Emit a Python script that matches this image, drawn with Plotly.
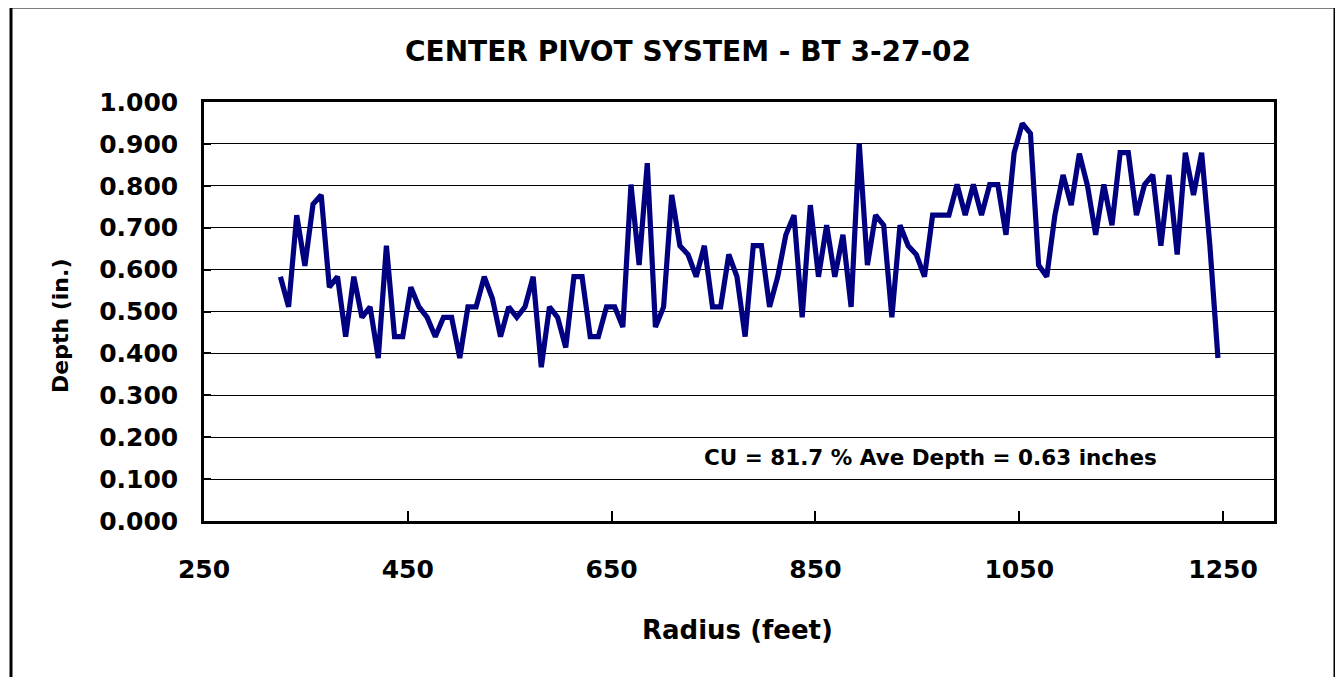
import plotly.graph_objects as go

radius_ft = [325, 333, 341, 349, 357, 365, 373, 381, 389, 397, 405, 413, 421, 429, 437, 445,
             453, 461, 469, 477, 485, 493, 501, 509, 517, 525, 533, 541, 549, 557, 565, 573,
             581, 589, 597, 605, 613, 621, 629, 637, 645, 653, 661, 669, 677, 685, 693, 701,
             709, 717, 725, 733, 741, 749, 757, 765, 773, 781, 789, 797, 805, 813, 821, 829,
             837, 845, 853, 861, 869, 877, 885, 893, 901, 909, 917, 925, 933, 941, 949, 957,
             965, 973, 981, 989, 997, 1005, 1013, 1021, 1029, 1037, 1045, 1053, 1061, 1069,
             1077, 1085, 1093, 1101, 1109, 1117, 1125, 1133, 1141, 1149, 1157, 1165, 1173,
             1181, 1189, 1197, 1205, 1213, 1221, 1229, 1237, 1245]

depth_in = [0.583, 0.511, 0.730, 0.609, 0.756, 0.778, 0.558, 0.583, 0.440, 0.583, 0.486, 0.511,
            0.389, 0.657, 0.440, 0.440, 0.558, 0.511, 0.486, 0.440, 0.486, 0.486, 0.389, 0.511,
            0.511, 0.583, 0.531, 0.440, 0.511, 0.486, 0.511, 0.583, 0.367, 0.511, 0.486, 0.414,
            0.583, 0.583, 0.440, 0.440, 0.511, 0.511, 0.463, 0.803, 0.611, 0.854, 0.463, 0.511,
            0.778, 0.657, 0.636, 0.583, 0.657, 0.511, 0.511, 0.636, 0.583, 0.440, 0.657, 0.657,
            0.511, 0.583, 0.683, 0.730, 0.486, 0.754, 0.583, 0.706, 0.583, 0.683, 0.511, 0.901,
            0.611, 0.730, 0.706, 0.486, 0.706, 0.657, 0.636, 0.583, 0.730, 0.730, 0.730, 0.803,
            0.730, 0.803, 0.730, 0.803, 0.803, 0.683, 0.879, 0.949, 0.925, 0.611, 0.583, 0.730,
            0.826, 0.754, 0.877, 0.800, 0.683, 0.803, 0.706, 0.879, 0.879, 0.730, 0.803, 0.826,
            0.657, 0.826, 0.636, 0.879, 0.778, 0.879, 0.660, 0.389]

x_ticks = [250, 450, 650, 850, 1050, 1250]
y_ticks = [0.0, 0.1, 0.2, 0.3, 0.4, 0.5, 0.6, 0.7, 0.8, 0.9, 1.0]

title_text = "CENTER PIVOT SYSTEM - BT 3-27-02"
x_title = "Radius (feet)"
y_title = "Depth (in.)"
note_text = "CU = 81.7 % Ave Depth = 0.63 inches"

FONT = "DejaVu Sans"

fig = go.Figure()
fig.add_trace(go.Scatter(
    x=radius_ft, y=depth_in, mode="lines",
    line=dict(color="#000080", width=5.2),
    showlegend=False, hoverinfo="x+y",
))

# the page body adds an 8px offset; positions below are screen pixels
OFF = 8
W, H = 1343, 677
L, R, T, B = 204 - OFF, 1274 - OFF, 102 - OFF, 521 - OFF


def px(xp):
    return (xp - OFF - L) / (R - L)


def py(yp):
    return (B - (yp - OFF)) / (B - T)


fig.update_layout(
    width=W, height=H,
    margin=dict(l=L, r=W - R, t=T, b=H - B, autoexpand=False),
    paper_bgcolor="white", plot_bgcolor="white",
    showlegend=False,
    font=dict(family=FONT, color="black"),
)

fig.update_xaxes(
    range=[250, 1300], tickmode="array", tickvals=x_ticks,
    ticktext=[str(v) for v in x_ticks],
    showgrid=False, zeroline=False,
    showline=True, linecolor="black", linewidth=2.5, mirror=True,
    ticks="inside", ticklen=10, tickwidth=2, tickcolor="black",
    tickfont=dict(family=FONT, size=25, color="black", weight="bold"),
    ticklabelstandoff=24,
)
fig.update_yaxes(
    range=[0, 1.0], tickmode="array", tickvals=y_ticks,
    ticktext=[f"{v:.3f}" for v in y_ticks],
    showgrid=True, gridcolor="black", gridwidth=1, zeroline=False,
    showline=True, linecolor="black", linewidth=2.5, mirror=True,
    ticks="inside", ticklen=7, tickwidth=2, tickcolor="black",
    tickfont=dict(family=FONT, size=25, color="black", weight="bold"),
    ticklabelstandoff=18,
)

fig.add_annotation(text=title_text, xref="paper", yref="paper",
                   x=px(687.5), y=py(52), showarrow=False,
                   xanchor="center", yanchor="middle",
                   font=dict(family=FONT, size=28, color="black", weight="bold"))
fig.add_annotation(text=x_title, xref="paper", yref="paper",
                   x=px(737.5), y=py(630), showarrow=False,
                   xanchor="center", yanchor="middle",
                   font=dict(family=FONT, size=26, color="black", weight="bold"))
fig.add_annotation(text=y_title, xref="paper", yref="paper",
                   x=px(60), y=py(326), showarrow=False, textangle=-90,
                   xanchor="center", yanchor="middle",
                   font=dict(family=FONT, size=22, color="black", weight="bold"))
fig.add_annotation(text=note_text, xref="paper", yref="paper",
                   x=px(930), y=py(457), showarrow=False,
                   xanchor="center", yanchor="middle",
                   font=dict(family=FONT, size=21.5, color="black", weight="bold"))

fig.add_shape(type="rect", xref="paper", yref="paper",
              x0=px(11), x1=px(1335), y0=py(700), y1=py(7),
              line=dict(color="black", width=3), fillcolor="rgba(0,0,0,0)",
              layer="above")

fig.write_html("out.html")
